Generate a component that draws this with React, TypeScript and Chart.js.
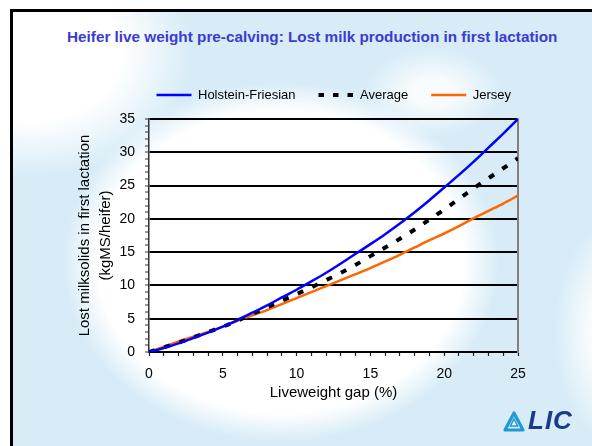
import React, { useEffect, useRef } from 'react';
import { Chart, registerables } from 'chart.js';

Chart.register(...registerables);

const chartTitle = 'Heifer live weight pre-calving: Lost milk production in first lactation';
const xAxisTitle = 'Liveweight gap (%)';
const yAxisTitle = ['Lost milksolids in first lactation', '(kgMS/heifer)'];

const liveweightGap = [0, 1, 2, 3, 4, 5, 6, 7, 8, 9, 10, 11, 12, 13, 14, 15, 16, 17, 18, 19, 20, 21, 22, 23, 24, 25];
const holsteinFriesian = [0, 0.6, 1.3, 2.1, 2.9, 3.8, 4.8, 5.9, 7.0, 8.2, 9.35, 10.6, 11.9, 13.3, 14.75, 16.2, 17.7, 19.3, 21.0, 22.8, 24.7, 26.6, 28.6, 30.7, 32.8, 35.0];
const average = [0, 0.7, 1.4, 2.2, 3.0, 3.8, 4.7, 5.7, 6.7, 7.7, 8.7, 9.7, 10.8, 11.9, 13.1, 14.4, 15.7, 17.0, 18.4, 19.9, 21.4, 23.0, 24.6, 26.1, 27.6, 29.1];
const jersey = [0, 0.8, 1.6, 2.3, 3.0, 3.8, 4.7, 5.5, 6.3, 7.2, 8.1, 9.0, 9.9, 10.8, 11.7, 12.6, 13.6, 14.6, 15.7, 16.8, 17.8, 18.9, 20.1, 21.2, 22.3, 23.5];

const xTickLabels = [0, 5, 10, 15, 20, 25];
const yTickLabels = [0, 5, 10, 15, 20, 25, 30, 35];

const FONT = '"Liberation Sans", Arial, Helvetica, sans-serif';

export default function App() {
  const canvasRef = useRef<HTMLCanvasElement>(null);

  useEffect(() => {
    const canvas = canvasRef.current;
    if (!canvas) return;
    const toPoints = (ys: number[]) => liveweightGap.map((x, i) => ({ x, y: ys[i] }));
    const chart = new Chart(canvas, {
      type: 'line',
      data: {
        datasets: [
          {
            label: 'Holstein-Friesian',
            data: toPoints(holsteinFriesian),
            borderColor: '#0000ff',
            backgroundColor: '#0000ff',
            borderWidth: 2.5,
            pointRadius: 0,
            cubicInterpolationMode: 'monotone',
          },
          {
            label: 'Average',
            data: toPoints(average),
            borderColor: '#000000',
            backgroundColor: '#000000',
            borderWidth: 4,
            borderDash: [6, 10],
            pointRadius: 0,
            cubicInterpolationMode: 'monotone',
          },
          {
            label: 'Jersey',
            data: toPoints(jersey),
            borderColor: '#ff6600',
            backgroundColor: '#ff6600',
            borderWidth: 2.5,
            pointRadius: 0,
            cubicInterpolationMode: 'monotone',
          },
        ],
      },
      options: {
        animation: false,
        responsive: false,
        maintainAspectRatio: false,
        layout: { padding: { left: 67, right: 58, top: 65.5, bottom: 44 } },
        plugins: {
          title: { display: false },
          legend: {
            display: true,
            align: 'end',
            labels: {
              usePointStyle: true,
              pointStyle: 'line',
              pointStyleWidth: 35,
              padding: 23,
              color: '#000000',
              font: { family: FONT, size: 13 },
              generateLabels: (c: any) => {
                const items = (Chart.defaults as any).plugins.legend.labels.generateLabels(c);
                items.forEach((it: any) => {
                  const ds: any = c.data.datasets[it.datasetIndex];
                  it.strokeStyle = ds.borderColor;
                  it.lineWidth = ds.borderDash ? 4 : 2.5;
                  it.lineDash = ds.borderDash ? [5.5, 9] : [];
                  it.pointStyle = 'line';
                });
                return items;
              },
            },
          },
          tooltip: { enabled: false },
        },
        scales: {
          x: {
            type: 'linear',
            position: 'bottom',
            min: 0,
            max: 25,
            afterFit: (s: any) => { s.height = 50; },
            ticks: {
              stepSize: 1,
              autoSkip: false,
              maxRotation: 0,
              padding: 10,
              color: '#000000',
              font: { family: FONT, size: 14 },
              callback: (v: any) => (xTickLabels.includes(Number(v)) ? String(v) : ''),
            },
            grid: { drawOnChartArea: false, drawTicks: true, tickLength: 4, tickColor: '#222', tickWidth: 1.2 },
            border: { display: true, color: '#000000', width: 2 },
            title: {
              display: true,
              text: xAxisTitle,
              color: '#000000',
              font: { family: FONT, size: 15 },
              padding: { top: 0, bottom: 0 },
            },
          },
          xTop: {
            type: 'linear',
            position: 'top',
            min: 0,
            max: 25,
            afterFit: (s: any) => { s.height = 7.5; },
            ticks: { display: false },
            grid: { display: false },
            border: { display: false },
          },
          y: {
            type: 'linear',
            position: 'left',
            min: 0,
            max: 35,
            afterFit: (s: any) => { s.width = 82; },
            ticks: {
              stepSize: 1,
              autoSkip: false,
              padding: 10,
              color: '#000000',
              font: { family: FONT, size: 14 },
              callback: (v: any) => (yTickLabels.includes(Number(v)) ? String(v) : ''),
            },
            grid: {
              color: (ctx: any) => (ctx.tick && yTickLabels.includes(ctx.tick.value) ? '#000000' : 'rgba(0,0,0,0)'),
              lineWidth: 2,
              tickLength: 4,
              tickColor: '#333',
              tickWidth: 1,
            },
            border: { display: true, color: '#333333', width: 1.5 },
            title: {
              display: true,
              text: yAxisTitle,
              color: '#000000',
              font: { family: FONT, size: 15, lineHeight: 1.4 },
              padding: { top: 7.5, bottom: 0 },
            },
          },
          yRight: {
            type: 'linear',
            position: 'right',
            min: 0,
            max: 35,
            afterFit: (s: any) => { s.width = 16; },
            ticks: { display: false },
            grid: { display: false },
            border: { display: true, color: '#808080', width: 2 },
          },
        },
      } as any,
    });
    return () => chart.destroy();
  }, []);

  const bg = [
    'radial-gradient(ellipse 218px 180px at 268px 250px, #ffffff 84%, rgba(255,255,255,0) 100%)',
    'radial-gradient(ellipse 160px 125px at 20px 40px, #ffffff 55%, rgba(255,255,255,0) 100%)',
    'radial-gradient(ellipse 75px 120px at 615px 320px, #ffffff 40%, rgba(255,255,255,0) 100%)',
    'radial-gradient(ellipse 70px 45px at 420px 80px, rgba(255,255,255,0.8) 30%, rgba(255,255,255,0) 100%)',
    'linear-gradient(#d7ecf7, #d7ecf7)',
  ].join(', ');

  return (
    <div style={{ position: 'absolute', left: 0, top: 0, width: 592, height: 446, overflow: 'hidden', background: '#ffffff' }}>
      <div
        style={{
          position: 'absolute',
          left: 10,
          top: 9,
          width: 600,
          height: 460,
          borderLeft: '3px solid #000',
          borderTop: '3px solid #000',
          background: bg,
          backgroundRepeat: 'no-repeat',
        }}
      />
      <div
        style={{
          position: 'absolute',
          left: 67,
          top: 28,
          fontFamily: FONT,
          fontWeight: 'bold',
          fontSize: 15.3,
          lineHeight: '18px',
          whiteSpace: 'nowrap',
          color: '#3c3cd2',
        }}
      >
        {chartTitle}
      </div>
      <canvas
        ref={canvasRef}
        width={592}
        height={446}
        style={{ position: 'absolute', left: 0, top: 0, width: 592, height: 446 }}
      />
      <svg
        width={24}
        height={24}
        viewBox="0 0 24 24"
        style={{ position: 'absolute', left: 502, top: 410 }}
      >
        <path
          d="M12 3 L21 20 L3 20 Z"
          fill="none"
          stroke="#1e9ad6"
          strokeWidth={3.2}
          strokeLinejoin="round"
        />
        <path d="M12 9 L15.5 16 L8.5 16 Z" fill="#ffffff" stroke="#1e9ad6" strokeWidth={1.5} />
      </svg>
      <div
        style={{
          position: 'absolute',
          left: 528,
          top: 405,
          fontFamily: FONT,
          fontWeight: 'bold',
          fontStyle: 'italic',
          fontSize: 26,
          letterSpacing: 1,
          color: '#1a3a8c',
          lineHeight: '30px',
        }}
      >
        LIC
      </div>
    </div>
  );
}
